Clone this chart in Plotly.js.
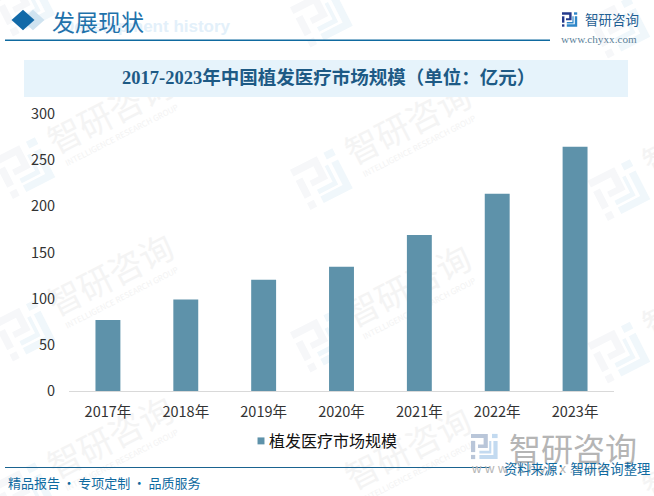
<!DOCTYPE html>
<html><head><meta charset="utf-8">
<script src="https://cdn.plot.ly/plotly-3.0.1.min.js"></script>
<style>html,body{margin:0;padding:0;background:#fff;overflow:hidden}#c{width:654px;height:496px}</style>
</head><body><div id="c"></div>
<script>
const categories = ['2017年','2018年','2019年','2020年','2021年','2022年','2023年'];
const values = [77, 99, 120.5, 134.5, 169, 213.5, 264.5];
const seriesName = '植发医疗市场规模';
const yTicks = [0,50,100,150,200,250,300];
const chartTitle = '2017-2023年中国植发医疗市场规模（单位：亿元）';

const L=69,R=614,T=114,B=391;
const X=p=>(p-L)/(R-L), Y=p=>(B-p)/(B-T);
const CJK='"Noto Sans CJK SC"';
const SERIF='"Liberation Serif","Noto Sans CJK SC"';
const shapes=[], annotations=[];

function poly(pts,cx,cy,s,deg,color){
  const a=deg*Math.PI/180,c=Math.cos(a),n=Math.sin(a);
  const d=pts.map((q,i)=>{
    const u=(q[0]-10)*s,v=(q[1]-9)*s;
    const px=cx+u*c-v*n,py=cy+u*n+v*c;
    return (i?'L':'M')+X(px).toFixed(5)+','+Y(py).toFixed(5);
  }).join('')+'Z';
  shapes.push({type:'path',xref:'paper',yref:'paper',layer:'below',path:d,fillcolor:color,line:{width:0}});
}
function logo(cx,cy,s,deg,c1,c2){
  [[[0,0],[12,0],[12,10],[5,10],[5,7.5],[9,7.5],[9,3],[0,3]],
   [[0,5],[3,5],[3,13],[0,13]],
   [[0,15],[3,15],[3,18],[0,18]]].forEach(p=>poly(p,cx,cy,s,deg,c1));
  [[[15,0],[19,0],[19,3],[15,3]],
   [[15,5],[19,5],[19,18],[6,18],[6,15],[16,15],[16,5]],
   [[6,12],[13,12],[13,5],[14.5,5],[14.5,14],[6,14]]].forEach(p=>poly(p,cx,cy,s,deg,c2));
}
function label(cx,cy,text,size,color,deg){
  shapes.push({type:'rect',xref:'paper',yref:'paper',layer:'below',
    x0:X(cx-1),x1:X(cx+1),y0:Y(cy+1),y1:Y(cy-1),line:{width:0},fillcolor:'rgba(0,0,0,0)',
    label:{text:text,textangle:deg,textposition:'middle center',xanchor:'center',yanchor:'middle',
           font:{family:CJK,size:size,color:color}}});
}
function rect(x0,y0,x1,y1,color){
  shapes.push({type:'rect',xref:'paper',yref:'paper',layer:'below',x0:X(x0),x1:X(x1),y0:Y(y1),y1:Y(y0),fillcolor:color,line:{width:0}});
}
function note(x,y,text,size,color,anchor,family,bold){
  annotations.push({xref:'paper',yref:'paper',x:X(x),y:Y(y),text:bold?'<b>'+text+'</b>':text,showarrow:false,
    xanchor:anchor,yanchor:'middle',borderpad:0,font:{family:family||CJK,size:size,color:color}});
}

// watermark lattice
for(let i=0;i<3;i++){
  for(let j=0;j<4;j++){
    const lx=25+297.5*i, ly=5+11*i+162.5*j;
    if(ly<500) logo(lx,ly,2.5,-27,'#f6f7f9','#f0f7fb');
    if(j>0 && ly-50<490){
      label(lx+87,ly-52,'智研咨询',34,'#f4f4f4',-27);
      label(lx+97,ly-32,'INTELLIGENCE RESEARCH GROUP',8,'#f3f3f3',-27);
    }
  }
}
// header
poly([[10,0],[20,9],[10,18],[0,9]],33,20,1.15,0,'#cfe3f0');
poly([[10,0],[20,9],[10,18],[0,9]],23,20,1.15,0,'#126aa8');
rect(5,39.5,550,41,'#0f6aa0');
label(146,24,'Development history',17,'#e3f0fa',0);
shapes[shapes.length-1].label.font.family='"Liberation Sans"';
shapes[shapes.length-1].label.text='<b>Development history</b>';
rect(24,60,628,97,'#e6f3fb');
logo(570,19.5,0.8,0,'#243a8c','#2e86c8');
// footer
logo(485,446.5,1.4,0,'#b9c6d9','#c3daf0');
rect(5,467,490,468,'#1a6390');

note(51,21,'发展现状',23,'#1f72ab','left','"Noto Sans CJK SC"');
note(584,19,'智研咨询',13.5,'#1f5f94','left');
note(560,39,'www.chyxx.com',11.2,'#5b7f99','left','"Liberation Serif"');
note(328,78,chartTitle,18.5,'#1d5a85','center',SERIF,true);
note(508,447,'智研咨询',32,'#b5b5b5','left');
note(470,468,'w w w . c h y x x . c o m',13,'#b5b5b5','left','"Liberation Sans"');
note(503,468,'资料来源：智研咨询整理',13.3,'#0f6aa0','left');
note(7,482,'精品报告\u2009·\u2009专项定制\u2009·\u2009品质服务',13,'#0f6aa0','left');

const trace={type:'bar',name:seriesName,x:categories,y:values,marker:{color:'#5e92aa',line:{width:0}},hoverinfo:'skip'};
const layout={
  width:654,height:496,
  margin:{l:L,r:654-R,t:T,b:496-B,pad:0},
  paper_bgcolor:'#fff',plot_bgcolor:'rgba(0,0,0,0)',
  bargap:0.68,
  showlegend:true,
  legend:{x:X(229),y:Y(441),xanchor:'left',yanchor:'middle',bgcolor:'rgba(0,0,0,0)',itemwidth:30,
          font:{family:CJK,size:16,color:'#111'},itemclick:false,itemdoubleclick:false},
  xaxis:{type:'category',range:[-0.5,6.5],showgrid:false,zeroline:false,showline:true,linecolor:'#d9d9d9',linewidth:1,
         ticks:'outside',ticklen:8,tickcolor:'rgba(0,0,0,0)',tickfont:{family:CJK,size:14.5,color:'#333'}},
  yaxis:{range:[0,300],tickmode:'array',tickvals:yTicks,showgrid:false,zeroline:false,showline:false,
         ticks:'outside',ticklen:10,tickcolor:'rgba(0,0,0,0)',tickfont:{family:CJK,size:14.5,color:'#333'}},
  shapes:shapes,annotations:annotations
};
Plotly.newPlot('c',[trace],layout,{displayModeBar:false,staticPlot:true}).then(gd=>{
  const p=gd.querySelector('.legendpoints path');
  if(p){p.setAttribute('transform','translate(32,0) scale(0.58)');}
});
</script></body></html>
